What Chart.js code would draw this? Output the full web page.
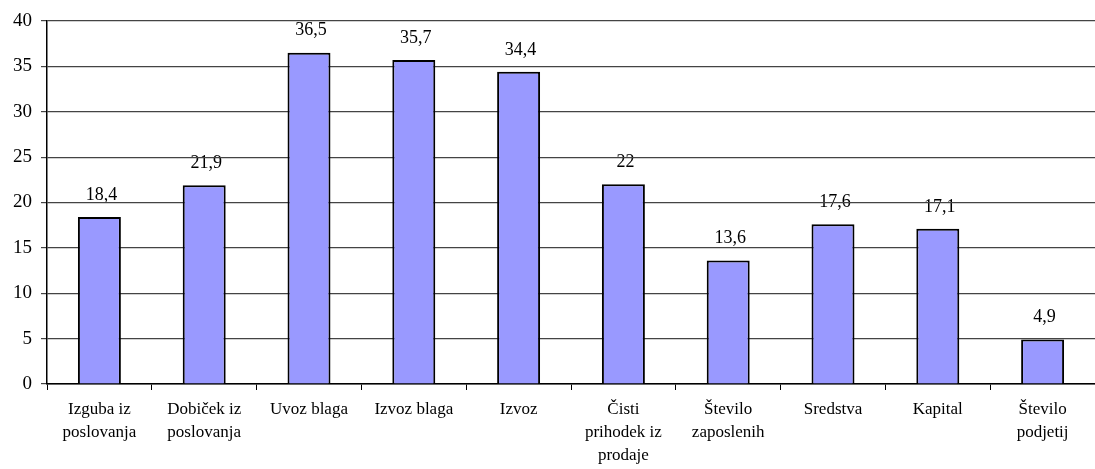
<!DOCTYPE html>
<html>
<head>
<meta charset="utf-8">
<script src="https://cdn.jsdelivr.net/npm/chart.js@4/dist/chart.umd.min.js"></script>
<style>
  html, body { margin: 0; padding: 0; background: #fff; }
  #wrap { width: 1095px; height: 469px; }
</style>
</head>
<body>
<div id="wrap"><canvas id="chart"></canvas></div>
<script>
const categories = [
  ["Izguba iz", "poslovanja"],
  ["Dobiček iz", "poslovanja"],
  "Uvoz blaga",
  "Izvoz blaga",
  "Izvoz",
  ["Čisti", "prihodek iz", "prodaje"],
  ["Število", "zaposlenih"],
  "Sredstva",
  "Kapital",
  ["Število", "podjetij"]
];
const values = [18.4, 21.9, 36.5, 35.7, 34.4, 22, 13.6, 17.6, 17.1, 4.9];
const yTicks = [0, 5, 10, 15, 20, 25, 30, 35, 40];

const font = "'Liberation Serif', 'Times New Roman', serif";

// value labels sit under the grid lines, so paint them before the scales
const valueLabels = {
  id: "valueLabels",
  beforeDraw(chart) {
    const ctx = chart.ctx;
    const meta = chart.getDatasetMeta(0);
    ctx.save();
    ctx.font = "18px " + font;
    ctx.fillStyle = "#000";
    ctx.textAlign = "center";
    ctx.textBaseline = "middle";
    meta.data.forEach((bar, i) => {
      const txt = String(values[i]).replace(".", ",");
      ctx.fillText(txt, bar.x + 2, bar.y - 22);
    });
    ctx.restore();
  }
};

new Chart(document.getElementById("chart"), {
  type: "bar",
  data: {
    labels: categories,
    datasets: [{
      data: values,
      backgroundColor: "#9999FF",
      borderColor: "#000",
      borderWidth: 2,
      barPercentage: 0.41,
      categoryPercentage: 1
    }]
  },
  options: {
    responsive: true,
    maintainAspectRatio: false,
    animation: false,
    layout: { padding: { top: 21, right: 0, left: 0, bottom: 0 } },
    plugins: {
      legend: { display: false },
      tooltip: { enabled: false }
    },
    scales: {
      x: {
        offset: true,
        grid: {
          offset: true,
          drawOnChartArea: false,
          drawTicks: true,
          tickLength: 6,
          color: "#000"
        },
        border: { color: "#000", width: 1.5 },
        ticks: {
          color: "#000",
          font: { family: font, size: 17, lineHeight: 1.35 },
          maxRotation: 0,
          autoSkip: false,
          padding: 8
        },
        afterFit(scale) { scale.height = 85; }
      },
      y: {
        min: 0,
        max: 40,
        afterBuildTicks(scale) { scale.ticks = yTicks.map(v => ({ value: v })); },
        grid: {
          color: "#444",
          lineWidth: 1.2,
          tickLength: 6
        },
        border: { color: "#000", width: 1.5 },
        ticks: {
          color: "#000",
          font: { family: font, size: 19 },
          padding: 9
        },
        afterFit(scale) { scale.width = 47; }
      }
    }
  },
  plugins: [valueLabels]
});
</script>
</body>
</html>
